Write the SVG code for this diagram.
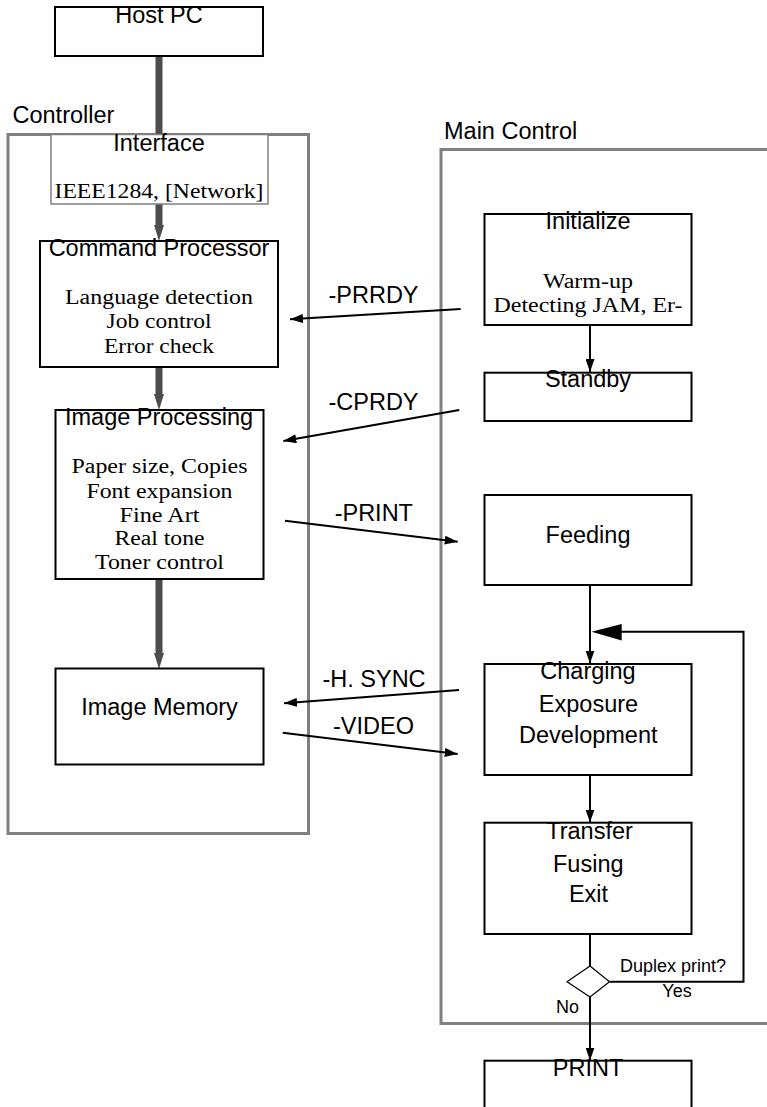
<svg xmlns="http://www.w3.org/2000/svg" width="767" height="1107" viewBox="0 0 767 1107">
  <style>
    .box { fill: #fff; stroke: #000; stroke-width: 2; }
    .frame { fill: none; stroke: #808080; stroke-width: 3; }
    .iface { fill: #fff; stroke: #808080; stroke-width: 1.5; }
    .sans { font-family: "Liberation Sans", Arial, sans-serif; font-size: 23.5px; fill: #000; }
    .serif { font-family: "Liberation Serif", "Times New Roman", serif; font-size: 20.5px; fill: #000; }
    .small { font-family: "Liberation Sans", Arial, sans-serif; font-size: 18px; fill: #000; }
    .mid { text-anchor: middle; }
    .wire { fill: none; stroke: #000; stroke-width: 2; }
    .bus { fill: none; stroke: #4d4d4d; stroke-width: 7; }
  </style>
  <defs>
    <marker id="tip" markerUnits="userSpaceOnUse" markerWidth="13" markerHeight="9" refX="13" refY="4.5" orient="auto">
      <path d="M0,0 L13,4.5 L0,9 z" fill="#000"/>
    </marker>
    <marker id="bustip" markerUnits="userSpaceOnUse" markerWidth="16" markerHeight="10" refX="0" refY="5" orient="auto">
      <path d="M0,0 L16,5 L0,10 z" fill="#4d4d4d"/>
    </marker>
  </defs>

  <rect width="767" height="1107" fill="#fff"/>

  <!-- enclosing frames -->
  <g id="controller">
    <rect class="frame" x="8" y="134.5" width="300.5" height="699"/>
    <text class="sans" x="12.5" y="123.3">Controller</text>
  </g>
  <g id="main-control">
    <rect class="frame" x="441" y="149.5" width="340" height="874"/>
    <text class="sans" x="444" y="139">Main Control</text>
  </g>

  <!-- connectors -->
  <g id="connectors">
    <!-- data path inside the controller -->
    <line class="bus" x1="159" y1="56" x2="159" y2="134"/>
    <line class="bus" x1="159" y1="204" x2="159" y2="225" marker-end="url(#bustip)"/>
    <line class="bus" x1="159" y1="367" x2="159" y2="394" marker-end="url(#bustip)"/>
    <line class="bus" x1="159" y1="579" x2="159" y2="653" marker-end="url(#bustip)"/>

    <!-- signals between controller and main control -->
    <line class="wire" x1="460.7" y1="309" x2="290" y2="319.3" marker-end="url(#tip)"/>
    <line class="wire" x1="459.3" y1="410" x2="283.3" y2="441" marker-end="url(#tip)"/>
    <line class="wire" x1="285" y1="520.7" x2="457.7" y2="541.7" marker-end="url(#tip)"/>
    <line class="wire" x1="459" y1="690" x2="284" y2="703.3" marker-end="url(#tip)"/>
    <line class="wire" x1="282.7" y1="732.7" x2="457.7" y2="754" marker-end="url(#tip)"/>
    <text class="sans mid" x="373.5" y="302.7">-PRRDY</text>
    <text class="sans mid" x="373.5" y="410">-CPRDY</text>
    <text class="sans mid" x="373.8" y="520.7">-PRINT</text>
    <text class="sans mid" x="374" y="686.7">-H. SYNC</text>
    <text class="sans mid" x="373.5" y="734.3">-VIDEO</text>

    <!-- print sequence -->
    <line class="wire" x1="590" y1="325" x2="590" y2="372" marker-end="url(#tip)"/>
    <line class="wire" x1="590" y1="585" x2="590" y2="663.5" marker-end="url(#tip)"/>
    <line class="wire" x1="590" y1="775" x2="590" y2="822.5" marker-end="url(#tip)"/>
    <line class="wire" x1="590" y1="934" x2="590" y2="966"/>
    <line class="wire" x1="590" y1="997" x2="590" y2="1060.5" marker-end="url(#tip)"/>
    <!-- duplex return path -->
    <polyline class="wire" points="609.5,981.7 743.5,981.7 743.5,631.7 620,631.7"/>
    <path d="M591.5,631.7 L621.7,624 L621.7,640.5 z" fill="#000"/>
    <text class="small" x="620" y="971.7">Duplex print?</text>
    <text class="small" x="662.3" y="996.7">Yes</text>
    <text class="small" x="556" y="1013.3">No</text>
  </g>

  <!-- controller nodes -->
  <g id="host-pc">
    <rect class="box" x="55" y="7" width="208" height="49"/>
    <text class="sans mid" x="159" y="23.3">Host PC</text>
  </g>
  <g id="interface">
    <rect class="iface" x="51" y="134.5" width="217" height="69.5"/>
    <text class="sans mid" x="159" y="150.7">Interface</text>
    <text class="serif mid" x="159" y="198" textLength="209" lengthAdjust="spacingAndGlyphs">IEEE1284, [Network]</text>
  </g>
  <g id="command-processor">
    <rect class="box" x="40" y="241" width="238" height="126"/>
    <text class="sans mid" x="159" y="256">Command Processor</text>
    <text class="serif mid" x="159" y="304" textLength="188" lengthAdjust="spacingAndGlyphs">Language detection</text>
    <text class="serif mid" x="159" y="328.3" textLength="105" lengthAdjust="spacingAndGlyphs">Job control</text>
    <text class="serif mid" x="159" y="352.7" textLength="110" lengthAdjust="spacingAndGlyphs">Error check</text>
  </g>
  <g id="image-processing">
    <rect class="box" x="55.5" y="410" width="208" height="169"/>
    <text class="sans mid" x="159" y="425">Image Processing</text>
    <text class="serif mid" x="159.5" y="473.3" textLength="176" lengthAdjust="spacingAndGlyphs">Paper size, Copies</text>
    <text class="serif mid" x="159.5" y="497.7" textLength="146" lengthAdjust="spacingAndGlyphs">Font expansion</text>
    <text class="serif mid" x="159.5" y="522" textLength="80" lengthAdjust="spacingAndGlyphs">Fine Art</text>
    <text class="serif mid" x="159.5" y="545.3" textLength="90" lengthAdjust="spacingAndGlyphs">Real tone</text>
    <text class="serif mid" x="159.5" y="569.3" textLength="129" lengthAdjust="spacingAndGlyphs">Toner control</text>
  </g>
  <g id="image-memory">
    <rect class="box" x="55.5" y="668.5" width="208" height="96"/>
    <text class="sans mid" x="159.5" y="715">Image Memory</text>
  </g>

  <!-- main control nodes -->
  <g id="initialize">
    <rect class="box" x="484.5" y="214" width="207" height="111"/>
    <text class="sans mid" x="588" y="229.3">Initialize</text>
    <text class="serif mid" x="588" y="288.3" textLength="90" lengthAdjust="spacingAndGlyphs">Warm-up</text>
    <text class="serif mid" x="588" y="312.3" textLength="189" lengthAdjust="spacingAndGlyphs">Detecting JAM, Er-</text>
  </g>
  <g id="standby">
    <rect class="box" x="484.5" y="372.7" width="207" height="48.3"/>
    <text class="sans mid" x="588" y="387.3">Standby</text>
  </g>
  <g id="feeding">
    <rect class="box" x="484.5" y="495" width="207" height="90"/>
    <text class="sans mid" x="588" y="542.7">Feeding</text>
  </g>
  <g id="charging">
    <rect class="box" x="484.5" y="664" width="207" height="111"/>
    <text class="sans mid" x="588" y="679.3">Charging</text>
    <text class="sans mid" x="588.5" y="711.7">Exposure</text>
    <text class="sans mid" x="588.3" y="743.3">Development</text>
  </g>
  <g id="transfer">
    <rect class="box" x="484.5" y="822.7" width="207" height="111.3"/>
    <text class="sans mid" x="589.5" y="839.3">Transfer</text>
    <text class="sans mid" x="588.3" y="871.7">Fusing</text>
    <text class="sans mid" x="588.5" y="901.7">Exit</text>
  </g>
  <g id="duplex-decision">
    <polygon points="590,966 609.5,981.7 590,997 567,981.7" fill="#fff" stroke="#000" stroke-width="1.2"/>
  </g>
  <g id="print">
    <rect class="box" x="484.5" y="1060.7" width="207" height="60"/>
    <text class="sans mid" x="588" y="1076">PRINT</text>
  </g>
</svg>
